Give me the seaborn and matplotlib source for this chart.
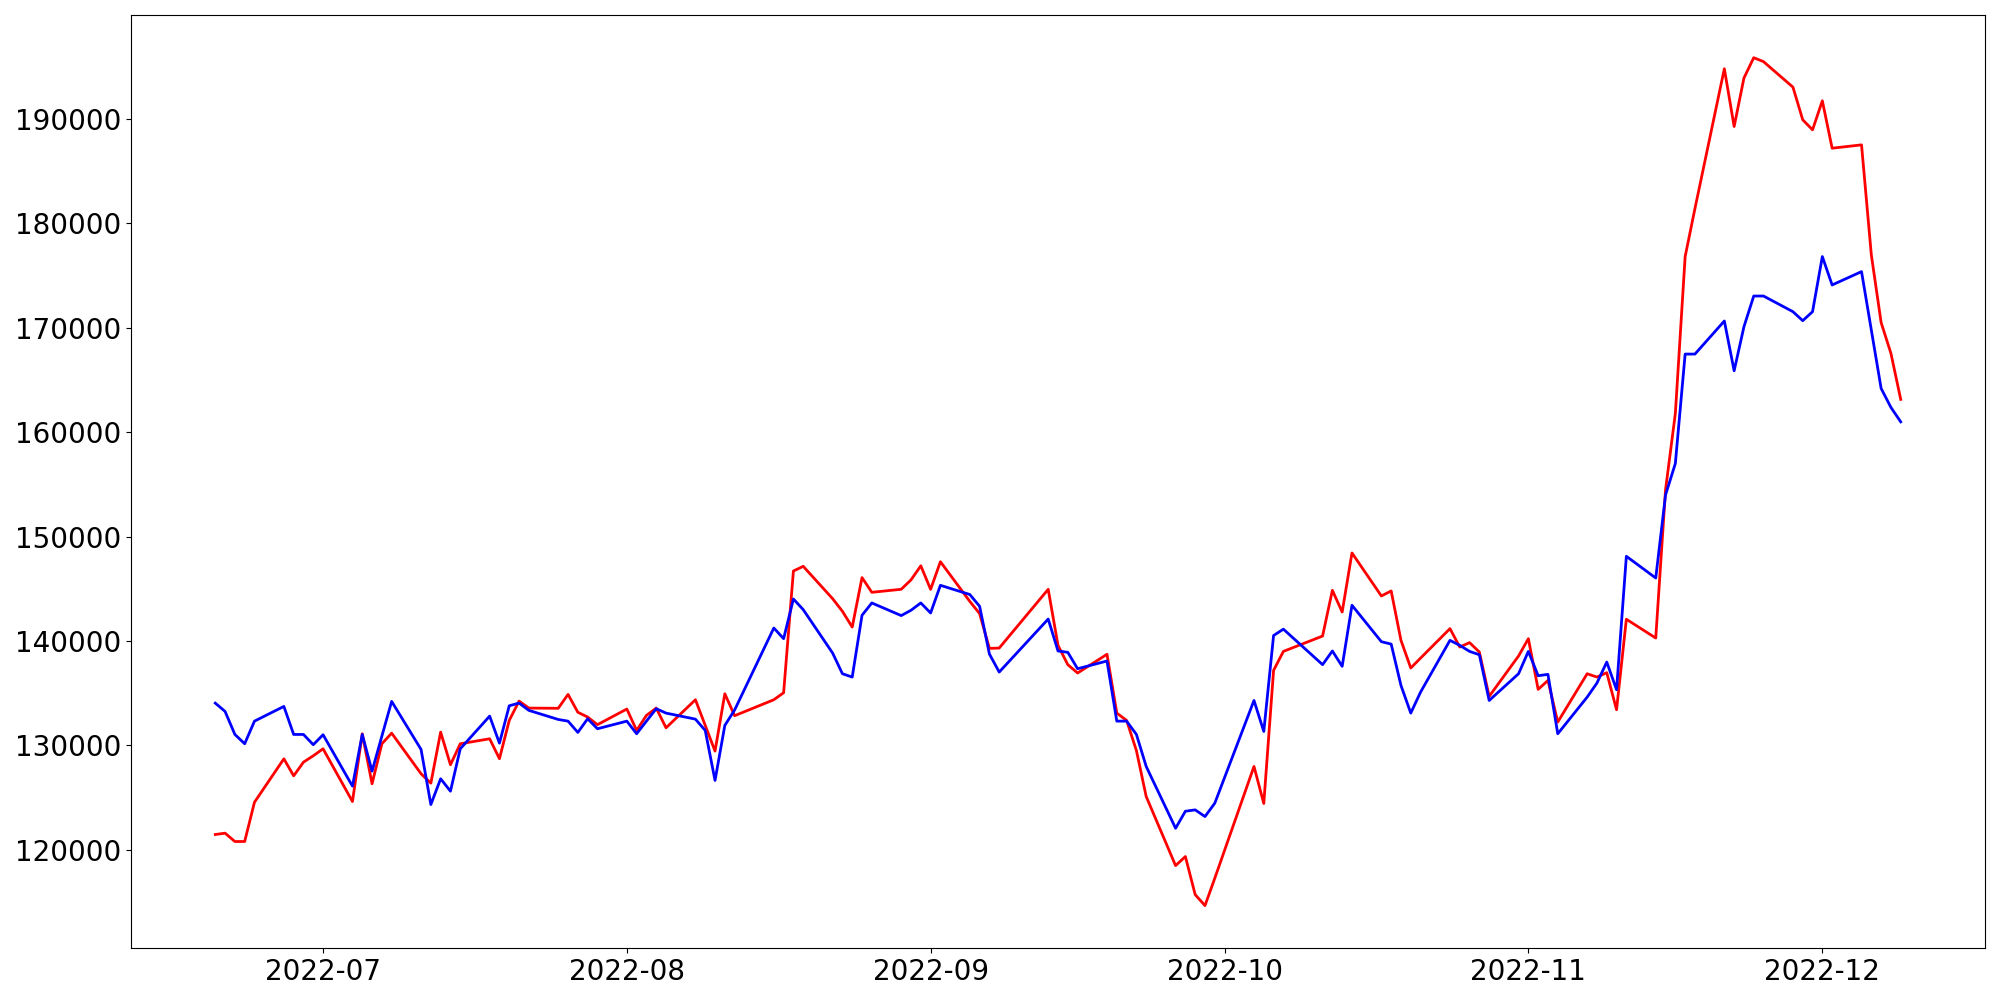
import numpy as np
import pandas as pd
import matplotlib
matplotlib.use("Agg")
import matplotlib.pyplot as plt
import seaborn as sns

# trading days (weekdays minus the market holidays that show as gaps)
holidays = ["2022-08-15", "2022-09-09", "2022-09-12", "2022-10-03", "2022-10-10"]
dates = pd.bdate_range("2022-06-20", "2022-12-09", freq="C", holidays=holidays)

blue_vals = [
    134057, 133260, 131055, 130163, 132330,
    133740, 131055, 131055, 130070, 131027,
    126100, 131055, 127540, 130890, 134220,
    129620, 124340, 126810, 125620, 129680,
    132810, 130220, 133800, 134060, 133360,
    132490, 132330, 131250, 132560, 131600,
    132330, 131120, 132330, 133520, 133100,
    132520, 131440, 126650, 131920, 133400,
    141250, 140230, 144030, 143010,
    138850, 136870, 136550, 142470, 143650,
    142440, 142950, 143650, 142690, 145340,
    144460, 143330, 138760, 137030,
    142110, 139050, 138920, 137350,
    138090, 132330, 132330, 131060, 127990,
    122070, 123700, 123830, 123190, 124470,
    134310, 131340, 140530, 141140,
    137740, 139050, 137580, 143430,
    139940, 139710, 135750, 133100, 135110,
    140070, 139590, 139010, 138690, 134310,
    136870, 139010, 136680, 136810, 131120,
    134630, 135980, 137990, 135340, 148120,
    146040, 154000, 157010, 167490, 167490,
    170660, 165890, 170110, 173050, 173050,
    171550, 170690, 171550, 176830, 174110,
    175390, 169790, 164200, 162380, 161000,
]

red_vals = [
    121470, 121600, 120800, 120800, 124560,
    128720, 127090, 128400, 129010, 129680,
    124630, 131120, 126330, 130160, 131180,
    127290, 126390, 131280, 128150, 130160,
    130640, 128730, 132400, 134250, 133580,
    133560, 134890, 133180, 132720, 131990,
    133490, 131440, 132880, 133580, 131690,
    134380, 131920, 129460, 134950, 132850,
    134380, 135050, 146710, 147160,
    144060, 142850, 141340, 146080, 144670,
    144960, 145860, 147210, 144950, 147600,
    143800, 142630, 139300, 139330,
    144960, 139590, 137740, 136940,
    138730, 133100, 132400, 129520, 125110,
    118490, 119360, 115710, 114660, 117280,
    127990, 124440, 137190, 139010,
    140480, 144860, 142780, 148440,
    144320, 144800, 140070, 137420, 138370,
    141190, 139430, 139850, 138950, 134700,
    138570, 140230, 135370, 136230, 132240,
    136870, 136550, 136970, 133420, 142090,
    140290, 154500, 161800, 176830, 181430,
    194820, 189290, 193930, 195880, 195500,
    193060, 189930, 188970, 191750, 187210,
    187530, 176990, 170510, 167560, 163150,
]

df = pd.DataFrame({"date": dates, "red": red_vals, "blue": blue_vals})

fig = plt.figure(figsize=(20, 10), dpi=100)
ax = fig.add_axes([0.0655, 0.052, 0.927, 0.9327])

sns.lineplot(data=df, x="date", y="red", color="red", linewidth=2, ax=ax)
sns.lineplot(data=df, x="date", y="blue", color="blue", linewidth=2, ax=ax)

ax.set_xlabel("")
ax.set_ylabel("")
ax.tick_params(axis="both", labelsize=20)

fig.savefig("out.png", dpi=100)
